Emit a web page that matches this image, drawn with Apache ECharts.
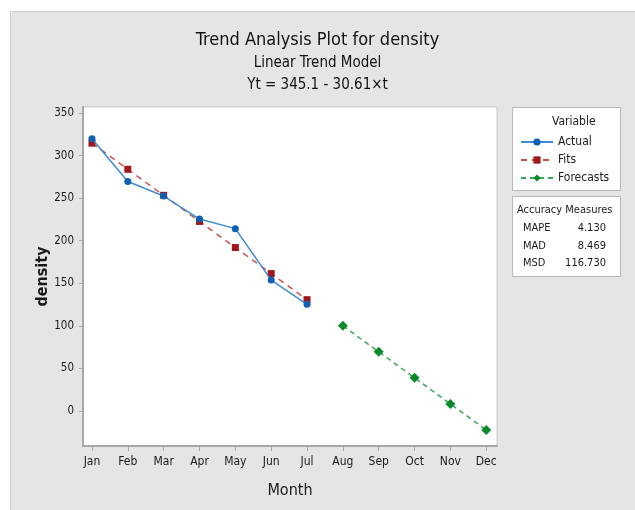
<!DOCTYPE html>
<html>
<head>
<meta charset="utf-8">
<script src="https://cdn.jsdelivr.net/npm/echarts@6/dist/echarts.min.js"></script>
<style>
  html, body { margin: 0; padding: 0; background: #fff; }
  #main { width: 635px; height: 510px; }
</style>
</head>
<body>
<div id="main"></div>
<script>
var months = ['Jan', 'Feb', 'Mar', 'Apr', 'May', 'Jun', 'Jul', 'Aug', 'Sep', 'Oct', 'Nov', 'Dec'];
var actual = [319.6, 269.5, 252.5, 225.5, 214.2, 153.8, 125.4];
var fits = [314.5, 283.9, 253.3, 222.7, 192.0, 161.4, 130.8];
var forecasts = [100.2, 69.6, 39.0, 8.4, -22.2];
var yTicks = [0, 50, 100, 150, 200, 250, 300, 350];
var measureNames = ['MAPE', 'MAD', 'MSD'];
var measureValues = ['4.130', '8.469', '116.730'];

var FONT = '"DejaVu Sans Condensed", "Liberation Sans Narrow", "Noto Sans", sans-serif';

var dom = document.getElementById('main');
var myChart = echarts.init(dom);

// month index t (1..12) paired with value
function pairs(vals, start) {
    var out = [];
    for (var i = 0; i < vals.length; i++) {
        out.push([start + i, vals[i]]);
    }
    return out;
}

var xTicks = [];
for (var i = 1; i <= months.length; i++) xTicks.push(i);

var graphics = [
    // grey panel
    { type: 'rect', left: 10, top: 11, shape: { width: 625, height: 499 },
      style: { fill: '#e5e5e5', stroke: '#d0d0d0', lineWidth: 1 }, z: -10 },
    // legend box
    { type: 'rect', left: 512, top: 107, shape: { width: 108, height: 83 },
      style: { fill: '#fff', stroke: '#b8b8b8', lineWidth: 1 }, z: 1 },
    { type: 'text', left: 552, top: 116, z: 2,
      style: { text: 'Variable', font: '12px ' + FONT, fill: '#1a1a1a' } },
    // accuracy box
    { type: 'rect', left: 512, top: 196, shape: { width: 108, height: 80 },
      style: { fill: '#fff', stroke: '#b8b8b8', lineWidth: 1 }, z: 1 },
    { type: 'text', left: 517, top: 205, z: 2,
      style: { text: 'Accuracy Measures', font: '11px ' + FONT, fill: '#1a1a1a' } }
];
for (var k = 0; k < measureNames.length; k++) {
    graphics.push({ type: 'text', left: 523, top: 223 + k * 17.5, z: 2,
        style: { text: measureNames[k], font: '11px ' + FONT, fill: '#1a1a1a' } });
    graphics.push({ type: 'text', right: 29, top: 223 + k * 17.5, z: 2,
        style: { text: measureValues[k], font: '11px ' + FONT, fill: '#1a1a1a', align: 'right' } });
}

option = {
    backgroundColor: '#fff',
    textStyle: { fontFamily: FONT },
    title: [
        { text: 'Trend Analysis Plot for density', left: 'center', top: 26,
          textStyle: { fontSize: 18, fontWeight: 'normal', color: '#111', fontFamily: FONT } },
        { text: 'Linear Trend Model', left: 'center', top: 51,
          textStyle: { fontSize: 15, fontWeight: 'normal', color: '#111', fontFamily: FONT } },
        { text: 'Yt = 345.1 - 30.61×t', left: 'center', top: 73,
          textStyle: { fontSize: 15, fontWeight: 'normal', color: '#111', fontFamily: FONT } }
    ],
    graphic: graphics,
    legend: {
        orient: 'vertical',
        left: 515,
        top: 131,
        itemWidth: 32,
        itemHeight: 9,
        itemGap: 6,
        textStyle: { fontSize: 12, color: '#1a1a1a', fontFamily: FONT },
        data: ['Actual', 'Fits', 'Forecasts'],
        z: 5
    },
    grid: {
        left: 83,
        top: 107,
        width: 414,
        height: 339,
        show: true,
        backgroundColor: '#fff',
        borderColor: '#c4c4c4',
        borderWidth: 1
    },
    xAxis: {
        type: 'value',
        min: 0.75,
        max: 12.3,
        name: 'Month',
        nameLocation: 'middle',
        nameGap: 37,
        nameMoveOverlap: false,
        nameTextStyle: { fontSize: 16, color: '#1a1a1a', fontFamily: FONT },
        splitLine: { show: false },
        axisLine: { show: true, onZero: false, lineStyle: { color: '#a8a8a8', width: 2 } },
        axisTick: { show: true, customValues: xTicks, length: 5, lineStyle: { color: '#a8a8a8' } },
        axisLabel: {
            customValues: xTicks,
            margin: 10,
            fontSize: 12,
            color: '#1a1a1a',
            formatter: function (v) { return months[Math.round(v) - 1]; }
        }
    },
    yAxis: {
        type: 'value',
        min: -41,
        max: 357,
        name: 'density',
        nameLocation: 'middle',
        nameGap: 32,
        nameMoveOverlap: false,
        nameTextStyle: { fontSize: 16, fontWeight: 'bold', color: '#1a1a1a', fontFamily: FONT },
        splitLine: { show: false },
        axisLine: { show: true, onZero: false, lineStyle: { color: '#a8a8a8', width: 2 } },
        axisTick: { show: true, customValues: yTicks, length: 4, lineStyle: { color: '#a8a8a8' } },
        axisLabel: { customValues: yTicks, margin: 9, fontSize: 11.5, color: '#1a1a1a' }
    },
    series: [
        {
            name: 'Actual',
            type: 'line',
            data: pairs(actual, 1),
            symbol: 'circle',
            symbolSize: 7,
            itemStyle: { color: '#0f5fb3' },
            lineStyle: { color: '#3f8bd6', width: 1.5 },
            z: 3
        },
        {
            name: 'Fits',
            type: 'line',
            data: pairs(fits, 1),
            symbol: 'rect',
            symbolSize: 7,
            itemStyle: { color: '#a01818' },
            lineStyle: { color: '#d05050', width: 1.5, type: [6, 5] },
            z: 2
        },
        {
            name: 'Forecasts',
            type: 'line',
            data: pairs(forecasts, 8),
            symbol: 'diamond',
            symbolSize: 10,
            itemStyle: { color: '#0b8a2b' },
            lineStyle: { color: '#3aa557', width: 1.5, type: [5, 4] },
            z: 2
        }
    ]
};
myChart.setOption(option);
</script>
</body>
</html>
